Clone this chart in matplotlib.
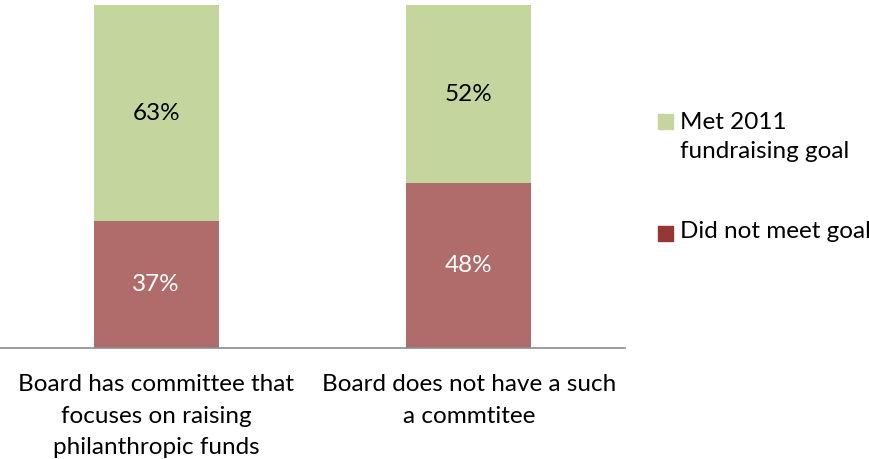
import matplotlib
matplotlib.use("Agg")
import matplotlib.pyplot as plt
from matplotlib.patches import Rectangle

categories = ["Board has committee that\nfocuses on raising\nphilanthropic funds",
              "Board does not have a such\na commtitee"]
did_not_meet = [37, 48]
met_goal = [63, 52]
series_labels = ["Met 2011\nfundraising goal", "Did not meet goal"]

plt.rcParams['font.family'] = ['Lato', 'DejaVu Sans']

fig = plt.figure(figsize=(8.7, 4.59), dpi=100)
ax = fig.add_axes([0.0, (459 - 348) / 459, 625 / 870, (348 - 5) / 459])

red_bar = "#B06C6B"
green_bar = "#C4D69E"
red_leg = "#953735"
green_leg = "#C4D69E"

FS = 17.5

x = list(range(len(categories)))
w = 0.4
ax.bar(x, did_not_meet, width=w, color=red_bar)
ax.bar(x, met_goal, width=w, bottom=did_not_meet, color=green_bar)

for i in x:
    ax.text(i, did_not_meet[i] / 2, f"{did_not_meet[i]}%", ha="center", va="center",
            color="white", fontsize=FS)
    ax.text(i, did_not_meet[i] + met_goal[i] / 2, f"{met_goal[i]}%", ha="center",
            va="center", color="black", fontsize=FS)

ax.set_xlim(-0.5, 1.5)
ax.set_ylim(0, 100)
ax.set_yticks([])
ax.set_xticks(x)
ax.set_xticklabels(categories, fontsize=FS, linespacing=1.6)
ax.tick_params(axis="x", length=0, pad=19)
for s in ["top", "right", "left"]:
    ax.spines[s].set_visible(False)
ax.spines["bottom"].set_color("#8C8C8C")
ax.spines["bottom"].set_linewidth(1.2)

# legend
def fx(px):
    return px / 870
def fy(py):
    return 1 - py / 459

fig.add_artist(Rectangle((fx(658), fy(129)), 15 / 870, 15 / 459, transform=fig.transFigure,
                         color=green_leg))
fig.text(fx(680), fy(137), series_labels[0], fontsize=FS, va="center", ha="left",
         linespacing=1.5, transform=fig.transFigure)
fig.add_artist(Rectangle((fx(658), fy(241)), 15 / 870, 15 / 459, transform=fig.transFigure,
                         color=red_leg))
fig.text(fx(680), fy(232), series_labels[1], fontsize=FS, va="center", ha="left",
         transform=fig.transFigure)

fig.savefig("out.png", dpi=100)
